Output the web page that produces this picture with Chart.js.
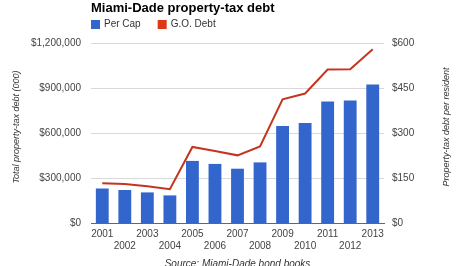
<!DOCTYPE html>
<html>
<head>
<meta charset="utf-8">
<script src="https://cdn.jsdelivr.net/npm/chart.js@4"></script>
<style>
  html, body { margin: 0; padding: 0; background: #fff; }
  #wrap { width: 474px; height: 266px; position: relative; }
</style>
</head>
<body>
<div id="wrap"><canvas id="chart" width="474" height="266"></canvas></div>
<script>
// Dane
const years = ['2001', '2002', '2003', '2004', '2005', '2006', '2007',
               '2008', '2009', '2010', '2011', '2012', '2013'];
const perCap = [115, 110, 102, 92, 207, 197, 181, 202, 323, 333, 405, 408, 462];
const goDebt = [265000, 260000, 245000, 225000, 507000, 480000, 451000,
                511000, 825000, 863000, 1023000, 1025000, 1158000];
const leftTicks = [0, 300000, 600000, 900000, 1200000];
const rightTicks = [0, 150, 300, 450, 600];

const FONT = '"Liberation Sans", Arial, sans-serif';
const BLUE = '#3366cc';
const RED = '#dc3912';
const LINE_RED = '#c4351f';

// Tytuł, legenda, podpisy osi i źródło rysowane ręcznie
const decorations = {
  id: 'decorations',
  afterDraw(chart) {
    const ctx = chart.ctx;
    const area = chart.chartArea;
    ctx.save();
    ctx.textBaseline = 'middle';
    ctx.textAlign = 'left';

    ctx.fillStyle = '#000';
    ctx.font = 'bold 13px ' + FONT;
    ctx.fillText('Miami-Dade property-tax debt', area.left, 8);

    ctx.font = '10px ' + FONT;
    const items = [
      { label: chart.data.datasets[1].label, color: BLUE },
      { label: chart.data.datasets[0].label, color: RED }
    ];
    let x = area.left;
    items.forEach(item => {
      ctx.fillStyle = item.color;
      ctx.fillRect(x, 20, 9, 9);
      ctx.fillStyle = '#333';
      ctx.fillText(item.label, x + 13, 24.5);
      x += 13 + ctx.measureText(item.label).width + 17;
    });

    ctx.fillStyle = '#333';
    ctx.font = 'italic 9px ' + FONT;
    ctx.textAlign = 'center';
    ctx.save();
    ctx.translate(16, 127);
    ctx.rotate(-Math.PI / 2);
    ctx.fillText('Total property-tax debt (000)', 0, 0);
    ctx.restore();
    ctx.save();
    ctx.translate(446, 127);
    ctx.rotate(-Math.PI / 2);
    ctx.fillText('Property-tax debt per resident', 0, 0);
    ctx.restore();

    ctx.font = 'italic 10px ' + FONT;
    ctx.fillText('Source: Miami-Dade bond books', (area.left + area.right) / 2, 264);
    ctx.restore();
  }
};

new Chart(document.getElementById('chart').getContext('2d'), {
  data: {
    labels: years,
    datasets: [{
      type: 'line',
      label: 'G.O. Debt',
      data: goDebt,
      yAxisID: 'y',
      borderColor: LINE_RED,
      backgroundColor: RED,
      borderWidth: 2,
      pointRadius: 0,
      tension: 0,
      order: 0
    }, {
      type: 'bar',
      label: 'Per Cap',
      data: perCap,
      yAxisID: 'yR',
      backgroundColor: BLUE,
      categoryPercentage: 1,
      barPercentage: 0.57,
      order: 1
    }]
  },
  options: {
    responsive: false,
    animation: false,
    devicePixelRatio: 1,
    layout: { padding: { top: 43, left: 0, right: 0, bottom: 0 } },
    plugins: {
      legend: { display: false },
      title: { display: false },
      tooltip: { enabled: false }
    },
    scales: {
      x: {
        offset: true,
        grid: { display: false, drawTicks: false },
        border: { display: true, color: '#666', width: 1 },
        ticks: {
          autoSkip: false,
          maxRotation: 0,
          padding: 5,
          color: '#444',
          font: { family: FONT, size: 10, lineHeight: 1.2 },
          callback: function(value, index) {
            const label = this.getLabelForValue(value);
            return index % 2 === 0 ? [label, ''] : ['', label];
          }
        },
        afterFit(scale) { scale.height = 43; }
      },
      y: {
        position: 'left',
        min: 0,
        max: 1200000,
        afterBuildTicks(scale) { scale.ticks = leftTicks.map(v => ({ value: v })); },
        grid: {
          drawTicks: false,
          color: ctx => ctx.tick && ctx.tick.value === 0 ? 'rgba(0,0,0,0)' : '#d9d9d9'
        },
        border: { display: false },
        ticks: {
          padding: 10,
          color: '#444',
          font: { family: FONT, size: 10 },
          callback: v => '$' + v.toLocaleString('en-US')
        },
        afterFit(scale) { scale.width = 91; }
      },
      yR: {
        position: 'right',
        min: 0,
        max: 600,
        afterBuildTicks(scale) { scale.ticks = rightTicks.map(v => ({ value: v })); },
        grid: { display: false, drawTicks: false },
        border: { display: false },
        ticks: {
          padding: 8,
          color: '#444',
          font: { family: FONT, size: 10 },
          callback: v => '$' + v
        },
        afterFit(scale) { scale.width = 90; }
      }
    }
  },
  plugins: [decorations]
});
</script>
</body>
</html>
